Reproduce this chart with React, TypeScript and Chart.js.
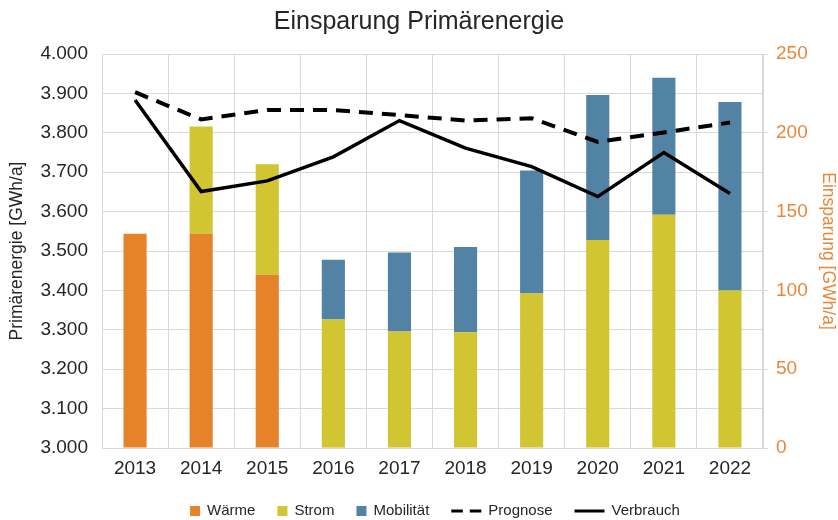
import React, { useEffect, useRef } from 'react';
import { Chart, registerables } from 'chart.js';

Chart.register(...registerables);

const categories = ['2013', '2014', '2015', '2016', '2017', '2018', '2019', '2020', '2021', '2022'];
const waerme = [136, 136, 110, 0.5, 0, 0, 0, 0, 0, 0];
const strom = [0, 68, 70, 81, 74, 73.5, 98, 132, 148, 100];
const mobilitaet = [0, 0, 0, 38, 50, 54, 78, 92, 87, 119.5];
const prognose = [3903, 3834, 3858, 3858, 3845, 3831, 3837, 3777, 3801, 3826];
const verbrauch = [3883, 3651, 3678, 3739, 3831, 3761, 3714, 3638, 3750, 3646];

const FONT = "'Liberation Sans', Arial, sans-serif";
const TEXT = '#262626';
const ORANGE_TEXT = '#E8873A';
const C_WAERME = '#E6832A';
const C_STROM = '#D1C532';
const C_MOB = '#5283A5';
const GRID = '#d9d9d9';

const fmtDE = (v: number) => String(Math.round(v)).replace(/\B(?=(\d{3})+(?!\d))/g, '.');

const legendPlugin = {
  id: 'customLegend',
  afterDraw(chart: any) {
    const ctx = chart.ctx as CanvasRenderingContext2D;
    const items = chart.data.datasets.map((ds: any) => ({
      label: ds.label as string,
      isLine: ds.type === 'line',
      color: ds.type === 'line' ? ds.borderColor : ds.backgroundColor,
      dash: ds.borderDash || [],
    }));
    ctx.save();
    ctx.font = `15px ${FONT}`;
    const sq = 10;
    const lineW = 30;
    const gapText = 7;
    const gapItem = 22;
    const widths = items.map((it: any) => (it.isLine ? lineW : sq) + gapText + ctx.measureText(it.label).width);
    const total = widths.reduce((a: number, b: number) => a + b, 0) + gapItem * (items.length - 1);
    let x = 435 - total / 2;
    const y = 511;
    items.forEach((it: any, i: number) => {
      if (it.isLine) {
        ctx.beginPath();
        ctx.strokeStyle = it.color;
        ctx.lineWidth = 3;
        ctx.setLineDash(it.dash.length ? [11.5, 7] : []);
        ctx.moveTo(x, y);
        ctx.lineTo(x + lineW, y);
        ctx.stroke();
        ctx.setLineDash([]);
        x += lineW + gapText;
      } else {
        ctx.fillStyle = it.color;
        ctx.fillRect(x, y - sq / 2, sq, sq);
        x += sq + gapText;
      }
      ctx.fillStyle = TEXT;
      ctx.textBaseline = 'middle';
      ctx.textAlign = 'left';
      ctx.fillText(it.label, x, y);
      x += ctx.measureText(it.label).width + gapItem;
    });
    ctx.restore();
  },
};

export default function App() {
  const ref = useRef<HTMLCanvasElement>(null);

  useEffect(() => {
    document.body.style.margin = '0';
    if (!ref.current) return;
    const chart = new Chart(ref.current, {
      type: 'bar',
      data: {
        labels: categories,
        datasets: [
          { type: 'bar', label: 'Wärme', data: waerme, backgroundColor: C_WAERME, yAxisID: 'y1', stack: 's', order: 2, barPercentage: 0.35, categoryPercentage: 1 },
          { type: 'bar', label: 'Strom', data: strom, backgroundColor: C_STROM, yAxisID: 'y1', stack: 's', order: 2, barPercentage: 0.35, categoryPercentage: 1 },
          { type: 'bar', label: 'Mobilität', data: mobilitaet, backgroundColor: C_MOB, yAxisID: 'y1', stack: 's', order: 2, barPercentage: 0.35, categoryPercentage: 1 },
          { type: 'line', label: 'Prognose', data: prognose, borderColor: '#000', backgroundColor: '#000', borderWidth: 4, borderDash: [14, 9], pointRadius: 0, tension: 0, yAxisID: 'y', order: 0 },
          { type: 'line', label: 'Verbrauch', data: verbrauch, borderColor: '#000', backgroundColor: '#000', borderWidth: 3.5, pointRadius: 0, tension: 0, yAxisID: 'y', order: 0 },
        ] as any,
      },
      options: {
        animation: false,
        responsive: false,
        layout: { padding: 0 },
        plugins: {
          legend: { display: false },
          tooltip: { enabled: false },
          title: {
            display: true,
            text: 'Einsparung Primärenergie',
            color: TEXT,
            font: { family: FONT, size: 25, weight: 'normal' },
            padding: { top: 7, bottom: 17 },
          },
        },
        scales: {
          x: {
            stacked: true,
            grid: { color: GRID, drawTicks: false, offset: true },
            border: { color: GRID },
            ticks: { color: TEXT, font: { family: FONT, size: 19 }, padding: 9 },
            afterFit: (s: any) => { s.height = 72; },
          },
          y: {
            position: 'left',
            min: 3000,
            max: 4000,
            ticks: { stepSize: 100, color: TEXT, font: { family: FONT, size: 19 }, padding: 14, callback: (v: any) => fmtDE(Number(v)) },
            grid: { color: GRID, drawTicks: false },
            border: { color: GRID },
            title: { display: true, text: 'Primärenergie [GWh/a]', color: TEXT, font: { family: FONT, size: 17.5 }, padding: { top: 7, bottom: 0 } },
            afterFit: (s: any) => { s.width = 102; },
          },
          y1: {
            position: 'right',
            stacked: true,
            min: 0,
            max: 250,
            ticks: { stepSize: 50, color: ORANGE_TEXT, font: { family: FONT, size: 19 }, padding: 8 },
            grid: { drawOnChartArea: false, drawTicks: true, tickLength: 5, color: GRID },
            border: { color: GRID },
            title: { display: true, text: 'Einsparung [GWh/a]', color: ORANGE_TEXT, font: { family: FONT, size: 17.5 }, padding: { top: 0, bottom: 0 } },
            afterFit: (s: any) => { s.width = 75; },
          },
        },
      } as any,
      plugins: [legendPlugin],
    });
    return () => chart.destroy();
  }, []);

  return (
    <div style={{ width: 838, height: 520 }}>
      <canvas ref={ref} width={838} height={520} />
    </div>
  );
}
